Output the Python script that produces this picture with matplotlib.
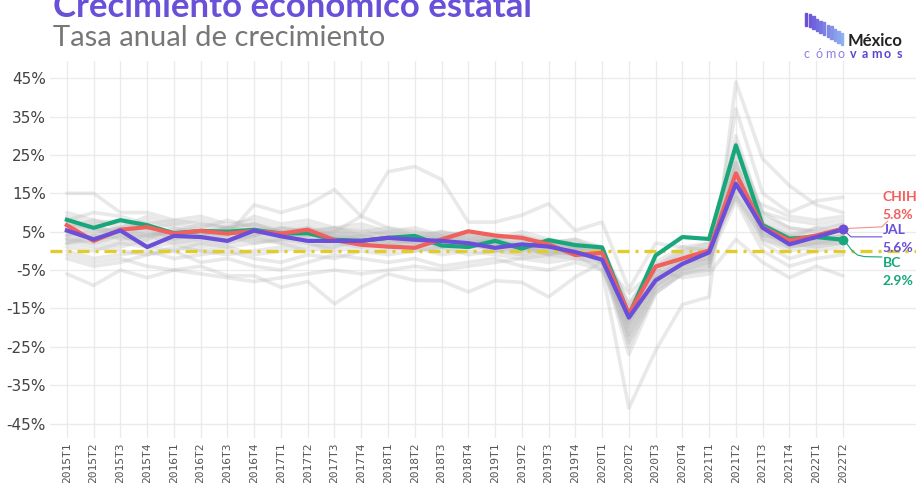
import numpy as np
import matplotlib
matplotlib.use("Agg")
import matplotlib.pyplot as plt
from matplotlib.patches import Rectangle
from matplotlib.colors import to_rgb

# quarters on the x axis
trimestres = [f"{a}T{t}" for a in range(2015, 2023) for t in range(1, 5)][:30]

# highlighted states (annual growth, %)
chih = [6.7, 2.6, 5.5, 6.2, 4.5, 5.2, 4.5, 5.2, 4.5, 5.5, 2.8, 1.6, 1.1, 0.8, 3.0,
        5.1, 4.0, 3.4, 1.7, -1.1, -0.5, -16.4, -4.1, -2.0, 0.1, 20.2, 6.2, 2.7, 4.0, 5.8]
jal = [5.3, 3.0, 5.3, 1.0, 3.9, 3.6, 2.6, 5.3, 3.8, 2.6, 2.6, 2.6, 3.4, 2.9, 2.6,
       2.0, 0.8, 1.7, 1.1, -0.3, -2.3, -17.4, -7.7, -3.4, -0.4, 17.5, 6.0, 1.7, 3.6, 5.6]
bc = [8.1, 6.0, 8.0, 6.7, 4.6, 5.2, 5.0, 5.5, 4.5, 4.6, 2.9, 2.6, 3.4, 3.9, 1.4,
      1.0, 2.6, 0.6, 2.8, 1.5, 0.9, -16.8, -1.2, 3.6, 3.1, 27.5, 6.7, 3.2, 3.6, 2.9]

# the rest of the states (grey background)
otros_estados = [
    [6, 8, 7, 6, 5, 4, 6, 7, 5, 4, 5, 3, 3, 2, 2, 3, 2, 1, 0, -1, -5, -41, -26, -14, -12, 44, 24, 17, 12, 10],
    [4, 5, 6, 7, 4, 5, 3, 4, 6, 5, 4, 3, 2, 3, 1, 2, 0, 1, -1, 0, -3, -27, -11, -6, -5, 37, 15, 10, 13, 14],
    [3, 2, 4, 1, 2, 0, 1, 2, 3, 4, 5, 9, 20.6, 22, 18.6, 7.5, 7.5, 9.3, 12.3, 5.3, 7.5, -10, 2, 1, 0, 14, 4, 3, 6, 5],
    [2, 4, 3, 5, 3, 4, 4, 12, 10, 12, 16, 9, 6, 5, 4, 2, 3, 5, 3, 1, 0, -18, -7, -4, -3, 19, 7, 4, 3, 4],
    [15, 15, 10, 10, 8, 7, 6, 7, 5, 6, 4, 5, 6, 4, 5, 3, 4, 3, 2, 1, -1, -22, -9, -5, -4, 26, 10, 6, 5, 7],
    [-6, -9, -5, -7, -5, -4, -6.5, -6.5, -9.5, -8, -13.8, -9.4, -6, -7.7, -7.8, -10.7, -7.8, -8.2, -12, -6.8, -3, -11, -5, -7, -6, 3, -3, -7, -4, -6.5],
    [-1, -3, -2, -4, -5, -6, -7, -8, -7, -6, -5, -6, -5, -4, -5, -4, -3, -2, -1, 1, 0, -14, -4, -2, -1, 15, 3, 1, 2, 3],
    [5, 4, 6, 5, 4, 3, 4, 5, 3, 4, 3, 2, 3, 4, 3, 2, 1, 0, 1, 0, -1, -17, -6, -2, 0, 18, 5, 2, 3, 4],
    [3, 2, 1, 3, 4, 2, 3, 4, 2, 3, 2, 3, 2, 1, 2, 1, 0, -1, 0, -1, -2, -19, -8, -4, -2, 21, 4, 1, 2, 3],
    [7, 6, 5, 8, 6, 5, 6, 7, 5, 4, 5, 4, 3, 2, 3, 4, 2, 3, 1, 2, 0, -15, -5, -1, 1, 17, 6, 3, 4, 5],
    [1, 0, 2, 1, 0, 2, 1, -1, 0, 1, 2, 1, 0, 1, -1, 0, -1, -2, -3, -2, -3, -23, -10, -6, -5, 23, 3, 0, 1, 2],
    [9, 7, 8, 6, 7, 6, 8, 6, 5, 6, 4, 3, 4, 3, 2, 3, 1, 2, 0, 1, -2, -20, -7, -3, -1, 24, 8, 5, 4, 6],
    [2, 1, 0, -1, 1, 0, -1, 0, 1, 2, 0, 1, 2, 3, 2, 1, 2, 1, 0, -1, -1, -16, -4, 0, 2, 14, 2, -2, 0, 1],
    [4, 6, 3, 4, 5, 6, 5, 3, 4, 5, 3, 4, 3, 2, 4, 3, 2, 2, 1, 0, -1, -21, -9, -5, -3, 20, 5, 3, 2, 2],
    [6, 3, 5, 4, 2, 3, 2, 4, 5, 3, 4, 2, 1, 3, 1, 2, 3, 0, 2, 1, 0, -18, -6, -2, -1, 19, 7, 4, 6, 7],
    [0, -2, -1, 0, -2, -1, 0, -2, -3, -1, -2, 0, -1, 0, 1, -1, 0, 1, -1, -2, -4, -24, -11, -6, -4, 28, 10, 8, 7, 8],
    [8, 10, 9, 7, 8, 9, 7, 8, 6, 7, 5, 6, 4, 5, 3, 4, 3, 2, 3, 2, 1, -14, -3, 1, 2, 16, 12, 9, 8, 9],
    [3, 4, 5, 3, 6, 4, 5, 6, 4, 5, 6, 5, 4, 3, 5, 4, 3, 4, 2, 1, -1, -25, -10, -5, -3, 30, 9, 6, 5, 5],
    [-2, -4, -3, -1, 0, -3, -2, -4, -5, -3, -1, -2, -3, -2, -4, -3, -2, -4, -5, -3, -5, -19, -7, -3, -2, 13, 0, -4, -2, -1],
    [5, 7, 4, 6, 3, 5, 4, 2, 3, 2, 1, 3, 2, 0, 1, 2, 0, -1, -2, -1, -3, -22, -9, -4, -2, 22, 6, 2, 3, 3],
    [4, 3, 2, 4, 5, 4, 6, 5, 4, 6, 3, 4, 5, 4, 3, 5, 4, 3, 2, 3, 1, -17, -5, -1, 0, 18, 6, 4, 3, 4],
    [7, 5, 6, 4, 5, 7, 6, 4, 6, 5, 6, 4, 5, 3, 4, 2, 3, 1, 2, 0, -2, -20, -8, -3, -2, 23, 7, 3, 4, 6],
    [2, 3, 4, 2, 3, 1, 2, 3, 2, 0, 1, 2, 1, 2, 0, 1, 2, 0, -1, 0, -2, -18, -7, -2, -1, 17, 4, 2, 1, 2],
    [10, 8, 6, 9, 7, 8, 6, 9, 7, 8, 6, 7, 5, 6, 4, 5, 3, 4, 2, 3, 0, -16, -4, 0, 1, 15, 5, 1, 2, 3],
]

yticks = [-45, -35, -25, -15, -5, 5, 15, 25, 35, 45]

morado = "#6a4fd8"
rojo = "#f0605d"
verde = "#17a77b"

fig = plt.figure(figsize=(9.16, 4.83), dpi=100)
ax = fig.add_axes([0.0546, 0.093, 0.9454, 0.780])

x = np.arange(len(trimestres))

for serie in otros_estados:
    ax.plot(x, serie, color="#b8b8b8", lw=2.6, alpha=0.3, solid_capstyle="round", zorder=2)

ax.axhline(0, color="#e0cc2c", lw=2.4, dashes=(3.6, 1.8, 0.9, 1.8), zorder=3)

for serie, col in [(bc, verde), (chih, rojo), (jal, morado)]:
    ax.plot(x, serie, color=col, lw=3.0, solid_joinstyle="round", zorder=4)
    ax.plot(x[-1], serie[-1], "o", color=col, ms=6, zorder=5)

# labels on the right with their connector lines
xl = 30.45
ax.plot([x[-1], xl, xl + 0.22], [chih[-1], 6.25, 7.7], color=rojo, lw=0.8, alpha=0.7, zorder=4)
ax.plot([x[-1], x[-1] + 0.3, xl], [jal[-1], 3.65, 3.65], color=morado, lw=0.8, zorder=4)
ax.plot([x[-1], x[-1] + 0.15, x[-1] + 0.35, x[-1] + 0.55, x[-1] + 0.8, xl],
        [bc[-1], 1.8, 0.0, -1.1, -1.5, -1.6], color=verde, lw=0.8, zorder=4)

etiquetas = [("CHIH", chih, rojo, 14.0, 9.3), ("JAL", jal, morado, 5.4, 0.7), ("BC", bc, verde, -3.2, -7.9)]
for nombre, serie, col, y1, y2 in etiquetas:
    ax.text(xl + 0.03, y1, nombre, color=col, fontsize=10, fontweight="bold", va="center", ha="left",
            family=["Lato", "DejaVu Sans"], zorder=6)
    ax.text(xl + 0.03, y2, f"{serie[-1]:.1f}%", color=col, fontsize=10, fontweight="bold", va="center",
            ha="left", family=["Lato", "DejaVu Sans"], zorder=6)

ax.set_xlim(-0.63, 31.73)
ax.set_ylim(-48.8, 49.4)
ax.set_xticks(x)
ax.set_xticklabels(trimestres, rotation=90, fontsize=8.1, color="#555555", family="DejaVu Sans Mono")
ax.set_yticks(yticks)
ax.set_yticklabels([f"{v}%" for v in yticks], fontsize=11, color="#444444",
                   family=["Liberation Sans Narrow", "DejaVu Sans"])
ax.tick_params(length=0, pad=3)
ax.tick_params(axis="x", pad=3)
ax.grid(True, color="#ebebeb", lw=1.0)
ax.set_axisbelow(True)
for s in ax.spines.values():
    s.set_visible(False)

# titles (the title sits partly above the top edge, as in the original)
fig.text(0.058, 1 - 17 / 483, "Crecimiento económico estatal", color=morado, fontsize=25, fontweight="bold",
         family=["Lato", "DejaVu Sans"], va="baseline")
fig.text(0.058, 1 - 46.5 / 483, "Tasa anual de crecimiento", color="#777777", fontsize=21,
         family=["Lato", "DejaVu Sans"], va="baseline")

# logo
c0 = np.array(to_rgb("#6a4fd8"))
c1 = np.array(to_rgb("#8fb0f0"))
for k in range(11):
    col = c0 + (c1 - c0) * k / 10
    top = 12.5 + k * 2.0
    bot = 25.5 + k * 1.95
    fig.patches.append(Rectangle(((805 + k * 3.6) / 916, 1 - bot / 483), 2.3 / 916, (bot - top) / 483,
                                 transform=fig.transFigure, color=col))
fig.text(848 / 916, 1 - 45.5 / 483, "México", fontsize=12, fontweight="bold", color="#222222",
         family=["Lato", "DejaVu Sans"], va="baseline")
for k, ch in enumerate("cómovamos"):
    fig.text((807 + k * 11.5) / 916, 1 - 58 / 483, ch, fontsize=9,
             fontweight="bold" if k >= 4 else "normal",
             color="#5b46d0" if k >= 4 else "#8f7fe0", ha="center", va="baseline",
             family=["Lato", "DejaVu Sans"])

fig.savefig("out.png", dpi=100, facecolor="white")
